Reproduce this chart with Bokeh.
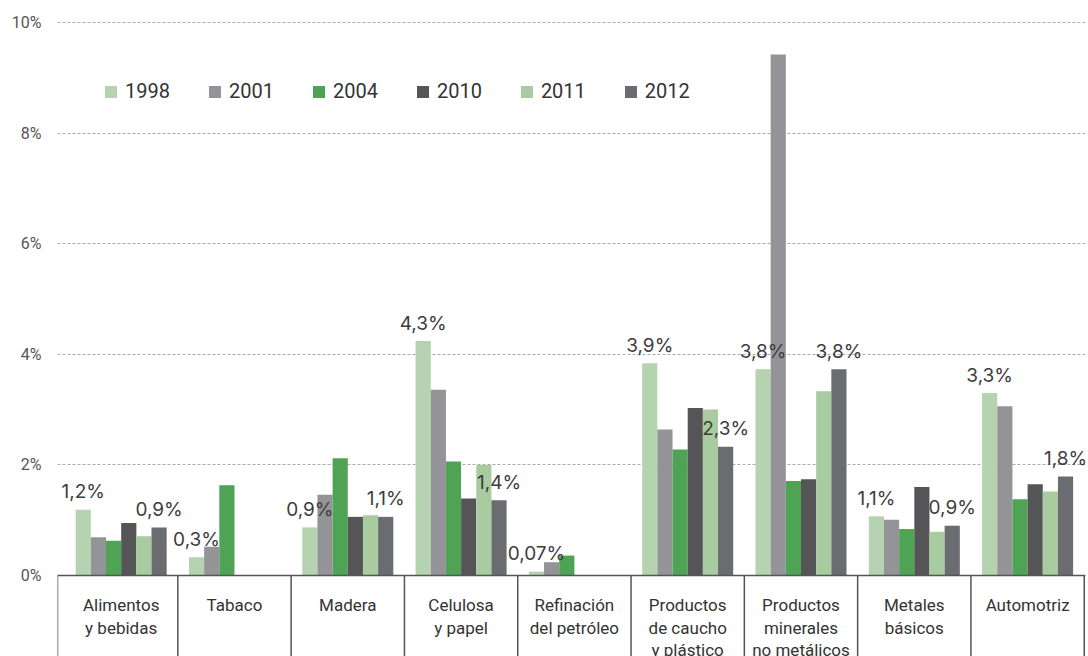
from bokeh.plotting import figure
from bokeh.models import (ColumnDataSource, Range1d, FixedTicker, PrintfTickFormatter,
                          Legend, LegendItem, Span)
from bokeh.core.properties import value
from bokeh.embed import file_html
from bokeh.resources import INLINE

categories = ["Alimentos\ny bebidas", "Tabaco", "Madera", "Celulosa\ny papel",
              "Refinación\ndel petróleo", "Productos\nde caucho\ny plástico",
              "Productos\nminerales\nno metálicos", "Metales\nbásicos", "Automotriz"]
years = ["1998", "2001", "2004", "2010", "2011", "2012"]
colors = ["#b5d3b1", "#949498", "#4fa355", "#555557", "#a8cb9f", "#6b6c70"]

# None = no data
v1998 = [1.19, 0.33, 0.87, 4.24, 0.07, 3.84, 3.73, 1.07, 3.30]
v2001 = [0.69, 0.52, 1.46, 3.36, 0.24, 2.64, 9.42, 1.01, 3.06]
v2004 = [0.63, 1.63, 2.12, 2.06, 0.36, 2.28, 1.71, 0.84, 1.38]
v2010 = [0.95, None, 1.06, 1.39, None, 3.03, 1.74, 1.60, 1.65]
v2011 = [0.71, None, 1.09, 2.00, None, 3.00, 3.33, 0.79, 1.52]
v2012 = [0.87, None, 1.06, 1.36, None, 2.33, 3.73, 0.90, 1.79]
series = [v1998, v2001, v2004, v2010, v2011, v2012]

labels_1998 = ["1,2%", "0,3%", "0,9%", "4,3%", "0,07%", "3,9%", "3,8%", "1,1%", "3,3%"]
labels_2012 = ["0,9%", "", "1,1%", "1,4%", "", "2,3%", "3,8%", "0,9%", "1,8%"]
y_ticks = [0, 2, 4, 6, 8, 10]

FONT = "Roboto"
LABEL_FONT = "Inter"
n = len(categories)
bw = 0.1339
x_start = -0.062

p = figure(width=1088, height=656, output_backend="svg", toolbar_location=None,
           x_range=Range1d(x_start, 9.011), y_range=Range1d(-1.465, 10.199),
           x_axis_location=None, min_border_left=57, min_border_right=3,
           min_border_top=11, min_border_bottom=0)
p.outline_line_color = None
p.xgrid.grid_line_color = None
p.ygrid.grid_line_color = "#aaaaaa"
p.ygrid.grid_line_dash = "3 2"
p.ygrid.grid_line_width = 1
p.yaxis.ticker = FixedTicker(ticks=y_ticks)
p.yaxis.formatter = PrintfTickFormatter(format="%d%%")
p.yaxis.axis_line_color = None
p.yaxis.major_tick_line_color = None
p.yaxis.minor_tick_line_color = None
p.yaxis.major_tick_out = 0
p.yaxis.major_label_standoff = 16
p.yaxis.major_label_text_font = FONT
p.yaxis.major_label_text_font_size = "16px"
p.yaxis.major_label_text_color = "#555555"

renderers = []
for j, (yr, vals, col) in enumerate(zip(years, series, colors)):
    xs, tops = [], []
    for i, v in enumerate(vals):
        if v is not None:
            xs.append(i + 0.5 + (j - 2.5) * bw)
            tops.append(v)
    src = ColumnDataSource(dict(x=xs, top=tops))
    r = p.vbar(x="x", top="top", width=bw, bottom=0, source=src,
               fill_color=col, line_color=None)
    renderers.append(r)

# zero line
p.add_layout(Span(location=0, dimension="width", line_color="#555555", line_width=1.5))

# category separators
sep_x = [x_start] + list(range(1, n + 1))
p.segment(x0=sep_x, x1=sep_x, y0=[0] * len(sep_x), y1=[-2] * len(sep_x),
          line_color="#555555", line_width=1.5)

# category labels
p.text(x=[i + 0.5 for i in range(n)], y=[0] * n, text=categories,
       text_font=value(FONT), text_font_size="17px", text_color="#333333",
       text_align="center", text_baseline="top", text_line_height=1.12, y_offset=20)

# value labels
lx, ly, lt = [], [], []
for i in range(n):
    if labels_1998[i]:
        lx.append(i + 0.5 + (0 - 2.5) * bw); ly.append(v1998[i]); lt.append(labels_1998[i])
    if labels_2012[i]:
        lx.append(i + 0.5 + (5 - 2.5) * bw); ly.append(v2012[i]); lt.append(labels_2012[i])
p.text(x=lx, y=ly, text=lt, text_font=value(LABEL_FONT), text_font_size="19px",
       text_color="#3d3d3d", text_align="center", text_baseline="middle", y_offset=-18)

legend = Legend(items=[LegendItem(label=y, renderers=[r]) for y, r in zip(years, renderers)],
                orientation="horizontal", location=(46, 553),
                border_line_color=None, background_fill_alpha=0,
                padding=0, margin=0, glyph_width=15, glyph_height=15,
                label_standoff=7, spacing=37,
                label_text_font=FONT, label_text_font_size="20px",
                label_text_color="#333333")
p.add_layout(legend)

open("out.html", "w").write(file_html(p, INLINE))
